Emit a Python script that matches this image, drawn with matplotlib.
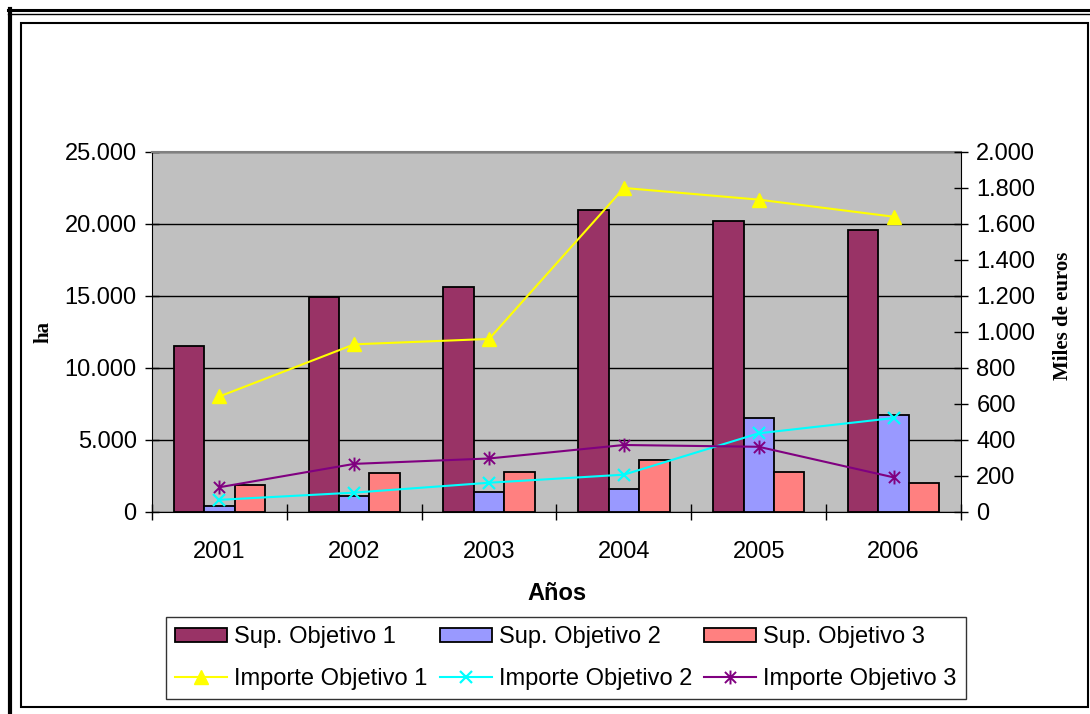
import matplotlib
matplotlib.use("Agg")
import matplotlib.pyplot as plt
import numpy as np
from matplotlib.lines import Line2D
from matplotlib.patches import Rectangle
from matplotlib.path import Path
from matplotlib.ticker import FuncFormatter, MultipleLocator

# superficie (ha) e importe (miles de euros) por objetivo
years = ["2001", "2002", "2003", "2004", "2005", "2006"]
sup_obj1 = [11500, 14950, 15600, 21000, 20200, 19600]
sup_obj2 = [350, 1050, 1350, 1550, 6500, 6700]
sup_obj3 = [1850, 2650, 2750, 3550, 2750, 2000]
imp_obj1 = [640, 930, 960, 1800, 1735, 1640]
imp_obj2 = [65, 105, 160, 205, 435, 520]
imp_obj3 = [135, 265, 295, 370, 360, 190]

W, H = 1090, 714
plt.rcParams["font.family"] = ["Liberation Sans", "DejaVu Sans"]

fig = plt.figure(figsize=(W / 100, H / 100), dpi=100)


def fx(x):
    return x / W


def fy(y):
    return 1 - y / H


# page-style double frame around the chart
fig.add_artist(Line2D([fx(8), fx(W)], [fy(10), fy(10)], color="black", lw=2.2))
fig.add_artist(Line2D([fx(8), fx(W)], [fy(13.5), fy(13.5)], color="black", lw=1.0))
fig.add_artist(Line2D([fx(10), fx(10)], [fy(9), fy(H)], color="black", lw=3.0))
fig.add_artist(Rectangle((fx(21), fy(707)), fx(1088) - fx(21), fy(23) - fy(707),
                         fill=False, edgecolor="black", lw=1.5,
                         transform=fig.transFigure))

ax = fig.add_axes([fx(152), fy(511.5), fx(961) - fx(152), fy(152) - fy(511.5)])
ax2 = ax.twinx()

x = np.arange(len(years))
bw = 0.226
bar_kw = dict(width=bw, edgecolor="black", linewidth=1.3, zorder=3)
b1 = ax.bar(x - bw, sup_obj1, color="#993366", label="Sup. Objetivo 1", **bar_kw)
b2 = ax.bar(x, sup_obj2, color="#9999FF", label="Sup. Objetivo 2", **bar_kw)
b3 = ax.bar(x + bw, sup_obj3, color="#FF8080", label="Sup. Objetivo 3", **bar_kw)

asterisk = Path(
    [(-1, -1), (1, 1), (-1, 1), (1, -1), (0, -1.25), (0, 1.25)],
    [Path.MOVETO, Path.LINETO, Path.MOVETO, Path.LINETO, Path.MOVETO, Path.LINETO],
)
l1, = ax2.plot(x, imp_obj1, color="#FFFF00", lw=1.5, marker="^", markersize=10,
               label="Importe Objetivo 1")
l2, = ax2.plot(x, imp_obj2, color="#00FFFF", lw=1.5, marker="x", markersize=9,
               markeredgewidth=1.6, label="Importe Objetivo 2")
l3, = ax2.plot(x, imp_obj3, color="#800080", lw=1.5, marker=asterisk, markersize=10,
               markeredgewidth=1.4, label="Importe Objetivo 3")

ax.set_facecolor("#C0C0C0")
ax.set_xlim(-0.5, len(years) - 0.5)
ax.set_ylim(0, 25000)
ax2.set_ylim(0, 2000)
ax.yaxis.set_major_locator(MultipleLocator(5000))
ax2.yaxis.set_major_locator(MultipleLocator(200))
thousands = FuncFormatter(lambda v, p: f"{v:,.0f}".replace(",", "."))
ax.yaxis.set_major_formatter(thousands)
ax2.yaxis.set_major_formatter(thousands)

ax.set_axisbelow(True)
ax.grid(True, axis="y", color="black", linewidth=1.0)

# category labels centred, tick marks between categories
ax.set_xticks(x)
ax.set_xticklabels(years)
ax.set_xticks(np.arange(len(years) + 1) - 0.5, minor=True)
ax.tick_params(axis="x", which="major", length=0, labelsize=17, pad=21)
ax.tick_params(axis="x", which="minor", direction="inout", length=11, width=1.0)
ax.tick_params(axis="y", direction="inout", length=10, width=1.0, labelsize=17, pad=6)
ax2.tick_params(axis="y", direction="inout", length=10, width=1.0, labelsize=17, pad=6)

for s in ("left", "bottom"):
    ax.spines[s].set_color("black")
ax.spines["top"].set_color("#808080")
ax.spines["top"].set_linewidth(1.5)
ax2.spines["right"].set_color("black")
for s in ("top", "left", "bottom"):
    ax2.spines[s].set_visible(False)
ax.spines["right"].set_visible(False)

ax.set_xlabel("Años", fontsize=17, fontweight="bold", labelpad=14)
ax.set_ylabel("ha", fontsize=15, fontweight="bold",
              family=["Liberation Serif", "DejaVu Serif"], labelpad=8)
ax2.set_ylabel("Miles de euros", fontsize=15, fontweight="bold",
               family=["Liberation Serif", "DejaVu Serif"])
ax2.yaxis.set_label_coords(1.114, 0.544)

handles = [b1, l1, b2, l2, b3, l3]
leg = fig.legend(
    handles, [h.get_label() for h in handles],
    ncol=3, loc="center", mode="expand",
    bbox_to_anchor=(fx(166), fy(700), fx(966) - fx(166), fy(616) - fy(700)),
    bbox_transform=fig.transFigure,
    fontsize=17, frameon=True, fancybox=False, edgecolor="black",
    handlelength=2.2, handleheight=0.6, handletextpad=0.3, columnspacing=0.3,
    labelspacing=0.82, borderpad=0.4, borderaxespad=0,
)
leg.get_frame().set_linewidth(1.0)

fig.savefig("out.png", dpi=100)
